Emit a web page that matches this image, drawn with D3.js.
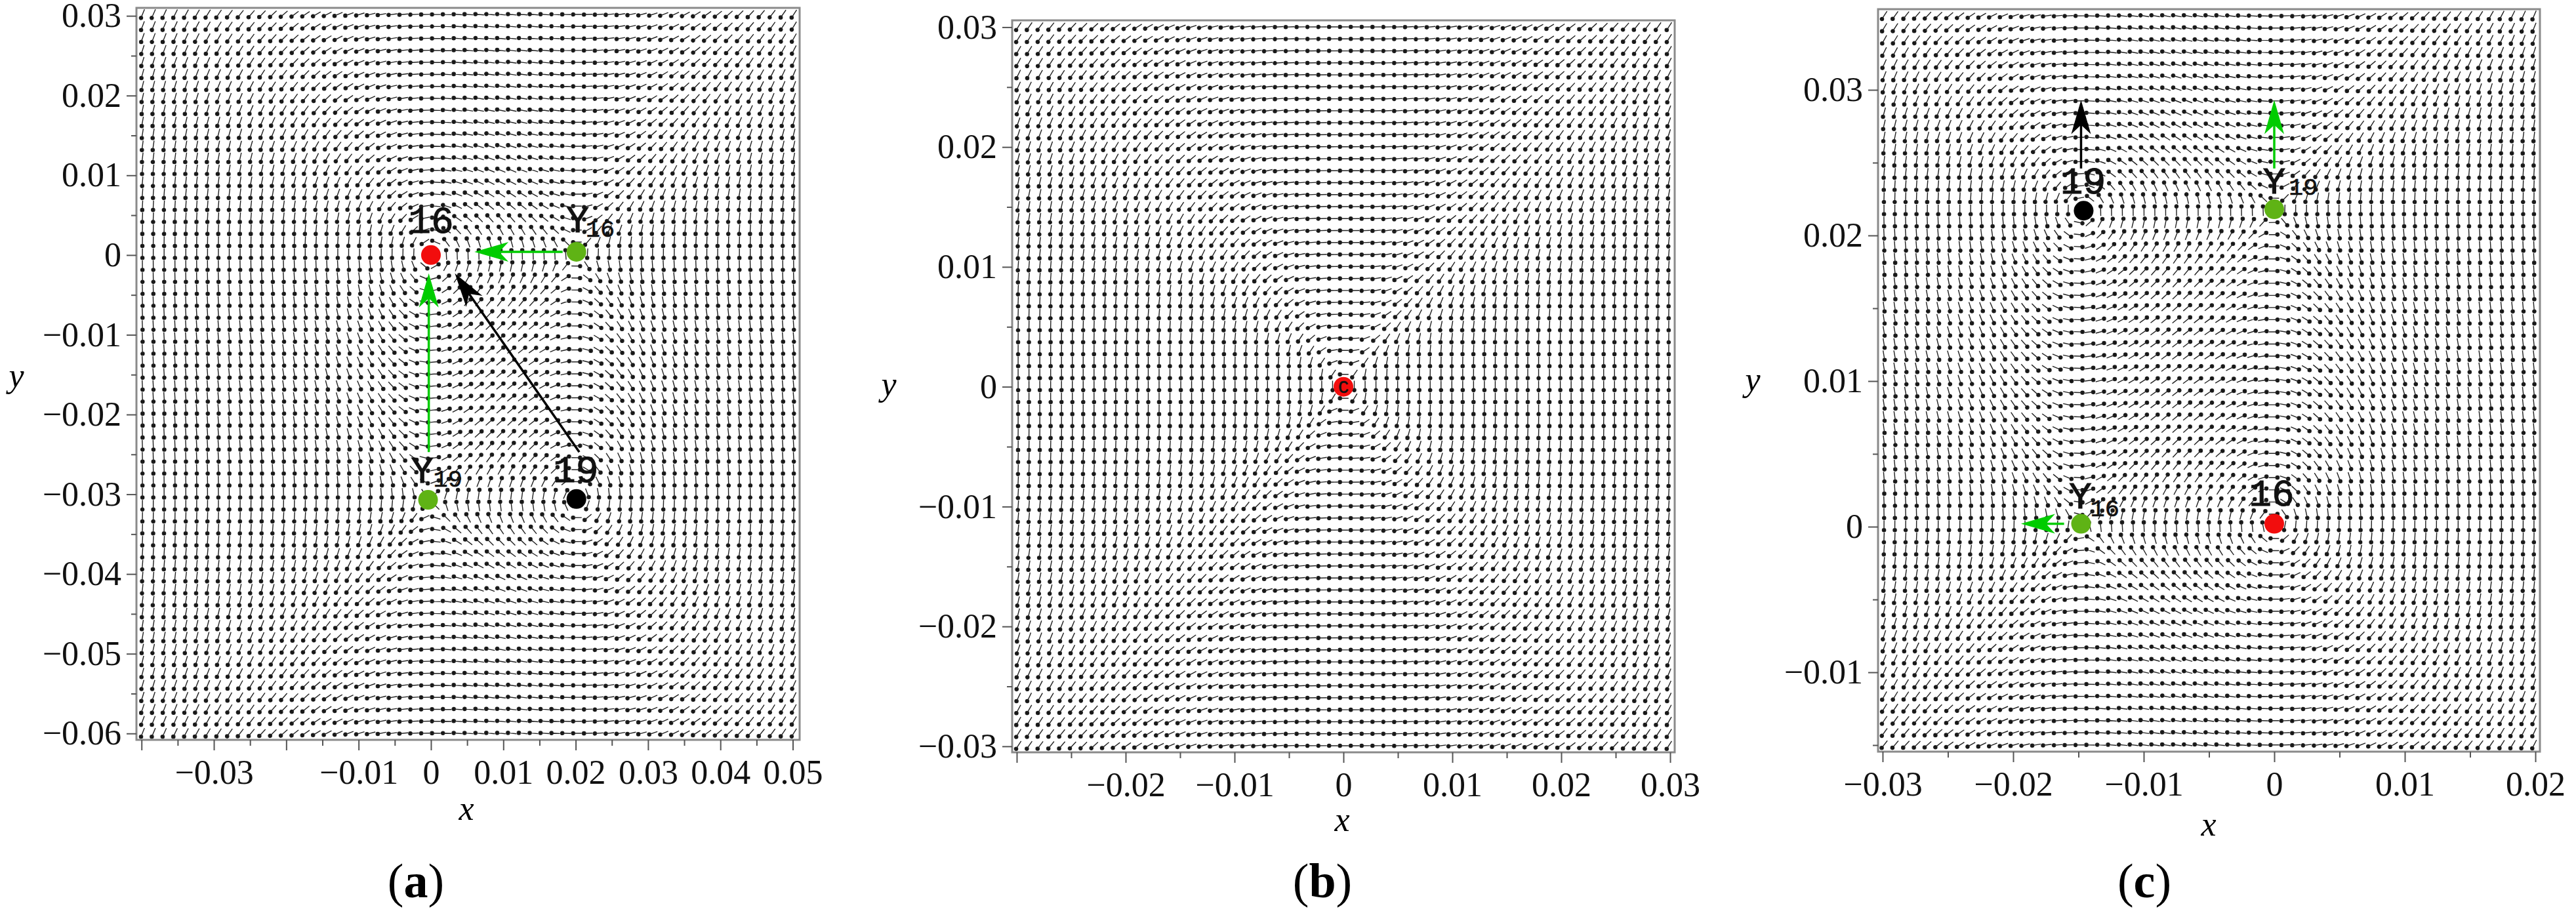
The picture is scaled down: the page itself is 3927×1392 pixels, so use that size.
<!DOCTYPE html>
<html><head><meta charset="utf-8">
<script src="https://cdn.jsdelivr.net/npm/d3@7"></script>
<style>html,body{margin:0;background:#fff}svg{display:block}</style>
</head><body><svg id="c" width="3927" height="1392"></svg>
<script>
// Values.
const xLabelsA = [[-0.03,"\u22120.03"],[-0.02,""],[-0.01,"\u22120.01"],[0,"0"],[0.01,"0.01"],[0.02,"0.02"],[0.03,"0.03"],[0.04,"0.04"],[0.05,"0.05"],[-0.04,""]];
const yLabelsA = [[0.03,"0.03"],[0.02,"0.02"],[0.01,"0.01"],[0,"0"],[-0.01,"\u22120.01"],[-0.02,"\u22120.02"],[-0.03,"\u22120.03"],[-0.04,"\u22120.04"],[-0.05,"\u22120.05"],[-0.06,"\u22120.06"]];
const xLabelsB = [[-0.03,""],[-0.02,"\u22120.02"],[-0.01,"\u22120.01"],[0,"0"],[0.01,"0.01"],[0.02,"0.02"],[0.03,"0.03"]];
const yLabelsB = [[0.03,"0.03"],[0.02,"0.02"],[0.01,"0.01"],[0,"0"],[-0.01,"\u22120.01"],[-0.02,"\u22120.02"],[-0.03,"\u22120.03"]];
const xLabelsC = [[-0.03,"\u22120.03"],[-0.02,"\u22120.02"],[-0.01,"\u22120.01"],[0,"0"],[0.01,"0.01"],[0.02,"0.02"]];
const yLabelsC = [[0.03,"0.03"],[0.02,"0.02"],[0.01,"0.01"],[0,"0"],[-0.01,"\u22120.01"]];
const xMinorA = [-0.035,-0.025,-0.015,-0.005,0.005,0.015,0.025,0.035,0.045];
const yMinorA = [0.025,0.015,0.005,-0.005,-0.015,-0.025,-0.035,-0.045,-0.055];
const xMinorB = [-0.025,-0.015,-0.005,0.005,0.015,0.025];
const yMinorB = [0.025,0.015,0.005,-0.005,-0.015,-0.025];
const xMinorC = [-0.025,-0.015,-0.005,0.005,0.015];
const yMinorC = [0.025,0.015,0.005,-0.005,-0.015];

// Fixed points [x, y]. The arrow grid's directions are NOT read
// arrow by arrow: they are computed from these roots as a fitted model of the field,
// u = -(y-y1)(y-y2), v = -k(x-x1)(x-x2), with k fitted per panel to arrows measured in crops.
const rootsXA = [0, 0.0201], rootsYA = [0, -0.0307];
const rootsXB = [0, 0],      rootsYB = [0, 0];
const rootsXC = [0, -0.0148], rootsYC = [0.0002, 0.0217];

const dotsA = [[0,0,"red"],[0.0201,0.0004,"green"],[-0.0004,-0.0307,"green"],[0.0201,-0.0306,"black"]];
const dotsB = [[0,0,"red"]];
const dotsC = [[0,0.0002,"red"],[-0.0148,0.0002,"green"],[-0.0146,0.0217,"black"],[0,0.0218,"green"]];

const arrowsA = [[0.0182,0.0004,0.0060,0.0004,"green"],[-0.0003,-0.0247,-0.0003,-0.0023,"green"],[0.0205,-0.0247,0.0033,-0.0023,"black"]];
const arrowsB = [];
const arrowsC = [[-0.0161,0.0002,-0.0194,0.0002,"green"],[-0.0148,0.0246,-0.0148,0.0293,"black"],[0,0.0246,0,0.0293,"green"]];

const labelsA = [["16",0,0,"main"],["Y",0.0201,0.0004,"Y"],["16",0.0201,0.0004,"sub"],["Y",-0.0004,-0.0307,"Y"],["19",-0.0004,-0.0307,"sub"],["19",0.0201,-0.0306,"main"]];
const labelsB = [["C",0,0,"centre"]];
const labelsC = [["16",0,0.0002,"main"],["Y",-0.0148,0.0002,"Y"],["16",-0.0148,0.0002,"sub"],["19",-0.0146,0.0217,"main"],["Y",0,0.0218,"Y"],["19",0,0.0218,"sub"]];

// Layout (pixels and styles).
const colours = {red:"#f20d0d", green:"#5fb315", black:"#000000"};
const arrowColours = {green:"#00cc00", black:"#000000"};
const labelOffsetsA = [[0,-34],[2,-30],[14,-23],[-9,-26],[8,-20],[-1,-26]];
const labelOffsetsB = [[0,9]];
const labelOffsetsC = [[-4,-28],[-1,-24],[14,-12],[-1,-26],[0,-24],[22,-22]];
const panels = [
 {name:"a", fx:[208,1219], fy:[12,1128], xd:[-0.0407,0.05095], yd:[0.0310,-0.0608], k:1.7,
  xl:xLabelsA, yl:yLabelsA, xm:xMinorA, ym:yMinorA, rx:rootsXA, ry:rootsYA, dots:dotsA, arrows:arrowsA, labels:labelsA, lo:labelOffsetsA,
  xLab:[711,1250], yLab:[25,590], cap:[634,1368]},
 {name:"b", fx:[1543,2553], fy:[31,1147], xd:[-0.03042,0.03042], yd:[0.03057,-0.0305], k:1.4,
  xl:xLabelsB, yl:yLabelsB, xm:xMinorB, ym:yMinorB, rx:rootsXB, ry:rootsYB, dots:dotsB, arrows:arrowsB, labels:labelsB, lo:labelOffsetsB,
  xLab:[2046,1267], yLab:[1355,603], cap:[2016,1368]},
 {name:"c", fx:[2863,3872], fy:[14,1146], xd:[-0.03035,0.02035], yd:[0.03554,-0.01545], k:1.4,
  xl:xLabelsC, yl:yLabelsC, xm:xMinorC, ym:yMinorC, rx:rootsXC, ry:rootsYC, dots:dotsC, arrows:arrowsC, labels:labelsC, lo:labelOffsetsC,
  xLab:[3367,1274], yLab:[2672,596], cap:[3269,1368]}
];
const N = 61;

const svg = d3.select("#c");
const defs = svg.append("defs");
defs.append("filter").attr("id","soft").attr("filterUnits","userSpaceOnUse")
  .attr("x",0).attr("y",0).attr("width",3927).attr("height",1392)
  .append("feGaussianBlur").attr("stdDeviation",0.45);
const SERIF = "'Liberation Serif',serif";
const MONO = "'Liberation Mono',monospace";

panels.forEach(p => {
  const x = d3.scaleLinear().domain(p.xd).range(p.fx);
  const y = d3.scaleLinear().domain(p.yd).range(p.fy);
  const g = svg.append("g");
  const ix = d3.scaleLinear().domain([-0.55, N-0.45]).range(p.xd);
  const iy = d3.scaleLinear().domain([-0.55, N-0.45]).range(p.yd);
  const cellX = (p.fx[1]-p.fx[0])/N, cellY = (p.fy[1]-p.fy[0])/N;
  const grid = d3.cross(d3.range(N), d3.range(N)).map(([i,j]) => [ix(i), iy(j)]);
  const arrowPath = ([X,Y]) => {
    let u = -(Y-p.ry[0])*(Y-p.ry[1]);
    let v = -p.k*(X-p.rx[0])*(X-p.rx[1]);
    const m = Math.hypot(u,v) || 1; u/=m; v/=m;
    const dx = u*cellX*0.47, dy = -v*cellY*0.47;   // half-length in pixels
    const px = x(X), py = y(Y);
    const bx = px+dx*0.68, by = py+dy*0.68, r = 2.6;
    return `M${px-dx},${py-dy}L${px+dx},${py+dy}M${bx-r},${by}a${r},${r} 0 1,0 ${2*r},0a${r},${r} 0 1,0 ${-2*r},0Z`;
  };
  g.append("g").attr("filter","url(#soft)").selectAll("path").data(grid).join("path")
    .attr("d",arrowPath).attr("fill","#0a0a0a").attr("stroke","#222").attr("stroke-width",1.4);

  // frame
  g.append("rect").attr("x",p.fx[0]).attr("y",p.fy[0]).attr("width",p.fx[1]-p.fx[0]).attr("height",p.fy[1]-p.fy[0])
    .attr("fill","none").attr("stroke","#8a8a8a").attr("stroke-width",3);

  // axes
  const xMap = new Map(p.xl), yMap = new Map(p.yl);
  const style = s => { s.select(".domain").remove(); s.selectAll("line").attr("stroke","#555").attr("stroke-width",2);
    s.selectAll("text").attr("font-family",SERIF).attr("font-size",52).attr("fill","#111"); };
  g.append("g").attr("transform",`translate(0,${p.fy[1]})`)
    .call(d3.axisBottom(x).tickValues(p.xl.map(d=>d[0])).tickSize(16).tickPadding(14).tickFormat(d=>xMap.get(d)))
    .call(style);
  g.append("g").attr("transform",`translate(${p.fx[0]},0)`)
    .call(d3.axisLeft(y).tickValues(p.yl.map(d=>d[0])).tickSize(15).tickPadding(8).tickFormat(d=>yMap.get(d)))
    .call(style);
  g.append("g").attr("transform",`translate(0,${p.fy[1]})`)
    .call(d3.axisBottom(x).tickValues(p.xm).tickSize(9).tickFormat("")).call(style);
  g.append("g").attr("transform",`translate(${p.fx[0]},0)`)
    .call(d3.axisLeft(y).tickValues(p.ym).tickSize(8).tickFormat("")).call(style);

  // axis titles and caption
  g.append("text").attr("x",p.xLab[0]).attr("y",p.xLab[1]).attr("text-anchor","middle")
    .attr("font-family",SERIF).attr("font-style","italic").attr("font-size",52).text("x");
  g.append("text").attr("x",p.yLab[0]).attr("y",p.yLab[1]).attr("text-anchor","middle")
    .attr("font-family",SERIF).attr("font-style","italic").attr("font-size",52).text("y");
  const cap = g.append("text").attr("x",p.cap[0]).attr("y",p.cap[1]).attr("text-anchor","middle")
    .attr("font-family",SERIF).attr("font-size",74);
  cap.append("tspan").text("(");
  cap.append("tspan").attr("font-weight","bold").text(p.name);
  cap.append("tspan").text(")");

  // dots
  g.selectAll("circle.dot").data(p.dots).join("circle").attr("class","dot")
    .attr("cx",d=>x(d[0])).attr("cy",d=>y(d[1])).attr("r",15).attr("fill",d=>colours[d[2]]);

  // annotation arrows
  p.arrows.forEach(a => {
    const x1=x(a[0]),y1=y(a[1]),x2=x(a[2]),y2=y(a[3]);
    const len=Math.hypot(x2-x1,y2-y1), ux=(x2-x1)/len, uy=(y2-y1)/len;
    const hl=52, hw=15, nl=38, c=arrowColours[a[4]];
    g.append("line").attr("x1",x1).attr("y1",y1).attr("x2",x2-ux*nl).attr("y2",y2-uy*nl).attr("stroke",c).attr("stroke-width",3.5);
    const pt=(al,w)=>[x2-ux*al-uy*w, y2-uy*al+ux*w];
    g.append("path").attr("d",d3.line()([[x2,y2],pt(hl,hw),pt(nl,0),pt(hl,-hw)])+"Z").attr("fill",c);
  });

  // point labels
  const st = {main:[58,"middle",0.9], Y:[58,"middle",0.9], sub:[37,"start",0.6], centre:[27,"middle",0.6]};
  g.selectAll("text.pl").data(p.labels).join("text").attr("class","pl")
    .attr("x",(d,i)=>x(d[1])+p.lo[i][0]).attr("y",(d,i)=>y(d[2])+p.lo[i][1])
    .attr("font-size",d=>st[d[3]][0]).attr("text-anchor",d=>st[d[3]][1])
    .attr("stroke","#111").attr("stroke-width",d=>st[d[3]][2])
    .attr("font-family",MONO).attr("fill","#111").text(d=>d[0]);
});
</script></body></html>
